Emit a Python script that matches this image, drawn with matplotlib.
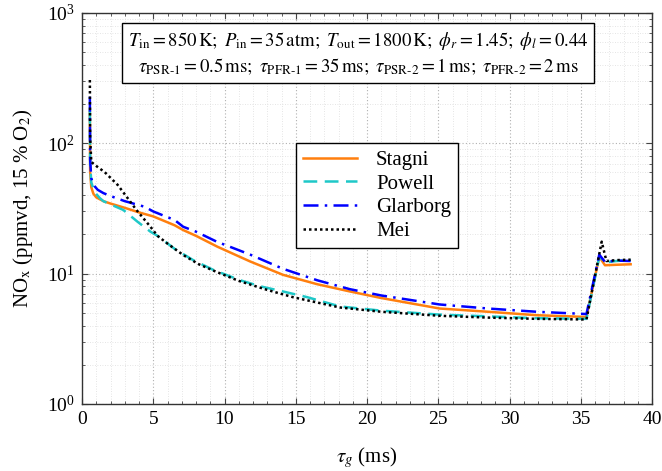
import matplotlib
matplotlib.use('Agg')
import matplotlib.pyplot as plt
from matplotlib.ticker import MultipleLocator, LogLocator, NullFormatter

plt.rcParams['font.family'] = ['Liberation Serif', 'DejaVu Serif']
plt.rcParams['mathtext.fontset'] = 'stix'

# ── Data ──────────────────────────────────────────────────────────────────────
tau_stagni = [0.55, 0.57, 0.65, 0.8, 1.0, 1.5, 2.0, 3.0, 4.0, 5.0, 6.5, 7.1, 8.0,
              9.5, 11.8, 14.1, 16.5, 18.8, 21.0, 25.1, 28.5, 31.9, 35.4,
              36.3, 36.7, 37.5, 38.5]
nox_stagni = [174, 60, 46, 41, 38.5, 36, 34.5, 32, 29.5, 27.5, 23.5, 21.6, 19.5,
              16.1, 12.4, 9.8, 8.3, 7.3, 6.5, 5.4, 5.1, 4.8, 4.65,
              13.5, 11.6, 11.7, 11.8]

tau_powell = [0.55, 0.57, 0.65, 0.9, 1.25, 1.5, 2.0, 2.9, 3.9, 4.8, 5.3, 6.5, 7.8,
              9.2, 11.1, 12.5, 14.1, 15.8, 18.1, 21.0, 25.1, 28.5, 31.9, 35.4,
              36.3, 36.7, 37.5, 38.5]
nox_powell = [180, 70, 50, 42, 38, 36, 34, 30.8, 25, 21, 19.5, 15.5, 12.7,
              10.7, 8.9, 8.0, 7.3, 6.6, 5.6, 5.2, 4.85, 4.7, 4.55, 4.5,
              13.5, 12.2, 12.5, 12.7]

tau_glarborg = [0.55, 0.57, 0.65, 0.8, 1.1, 1.5, 2.0, 3.0, 4.4, 5.0, 6.5, 7.1, 8.0,
                9.45, 11.8, 14.1, 16.5, 18.8, 21.0, 25.1, 28.5, 31.9, 35.4,
                36.3, 36.7, 37.5, 38.5]
nox_glarborg = [228, 75, 54, 48, 44, 41.5, 39.4, 36, 32.6, 30, 25.8, 22.9, 21,
                17.6, 14.0, 10.9, 8.9, 7.6, 6.8, 5.8, 5.4, 5.1, 4.9,
                14, 12.3, 12.6, 12.5]

tau_mei = [0.55, 0.57, 0.65, 1.0, 1.6, 2.5, 3.2, 3.8, 4.8, 5.3, 6.0, 7.1, 8.2, 9.45,
           11.0, 13.0, 14.8, 18.1, 21.0, 25.1, 28.5, 31.9, 35.4,
           36.47, 36.8, 37.5, 38.5]
nox_mei = [306, 110, 72, 67, 60, 48, 38, 31, 22.9, 19.5, 17, 13.9, 11.8, 10.3,
           8.8, 7.5, 6.6, 5.5, 5.1, 4.75, 4.6, 4.5, 4.45,
           17.6, 12.5, 12.7, 12.8]

# ── Plot ──────────────────────────────────────────────────────────────────────
fig = plt.figure(figsize=(6.62, 4.71), dpi=100)
ax = fig.add_axes([0.1239, 0.1423, 0.8610, 0.8301])

ax.plot(tau_stagni, nox_stagni, color='#ff7f0e', lw=1.8, ls='-', label='Stagni')
ax.plot(tau_powell, nox_powell, color='#1ec8c8', lw=1.8, ls=(0, (5.5, 3)), label='Powell')
ax.plot(tau_glarborg, nox_glarborg, color='#0000ff', lw=1.8,
        ls=(0, (6, 2.5, 1, 2.5)), label='Glarborg')
ax.plot(tau_mei, nox_mei, color='black', lw=1.8, ls=(0, (1, 1.2)), label='Mei')

ax.set_yscale('log')
ax.set_xlim(0, 40)
ax.set_ylim(1, 1000)
ax.xaxis.set_major_locator(MultipleLocator(5))
ax.xaxis.set_minor_locator(MultipleLocator(1))
ax.yaxis.set_major_locator(LogLocator(base=10, numticks=10))
ax.yaxis.set_minor_locator(LogLocator(base=10, subs=range(2, 10), numticks=20))
ax.yaxis.set_minor_formatter(NullFormatter())

ax.grid(which='major', ls=(0, (1, 2)), color='#b0b0b0', lw=0.8)
ax.grid(which='minor', ls=(0, (1, 2)), color='#dcdcdc', lw=0.6)
ax.tick_params(which='both', direction='in', top=True, right=True,
               labelsize=14, color='#444444')
ax.tick_params(which='major', length=4, pad=5)
ax.tick_params(which='minor', length=2.5)
for sp in ax.spines.values():
    sp.set_color('#333333')
    sp.set_linewidth(1.0)

ax.set_xlabel(r'$\tau_g$ (ms)', fontsize=15)
ax.set_ylabel(r'NO$_\mathrm{x}$ (ppmvd, 15 % O$_2$)', fontsize=15)
ax.xaxis.set_label_coords(0.5, -0.105)
ax.yaxis.set_label_coords(-0.082, 0.5)

info = (r'$T_\mathrm{in} = 850\,\mathrm{K};\ P_\mathrm{in} = 35\,\mathrm{atm};\ '
        r'T_\mathrm{out} = 1800\,\mathrm{K};\ \phi_r = 1.45;\ \phi_l = 0.44$' + '\n' +
        r'$\tau_{\mathrm{PSR}\text{-}\mathrm{1}} = 0.5\,\mathrm{ms};\ '
        r'\tau_{\mathrm{PFR}\text{-}\mathrm{1}} = 35\,\mathrm{ms};\ '
        r'\tau_{\mathrm{PSR}\text{-}\mathrm{2}} = 1\,\mathrm{ms};\ '
        r'\tau_{\mathrm{PFR}\text{-}\mathrm{2}} = 2\,\mathrm{ms}$')
ax.text(0.485, 0.896, info, transform=ax.transAxes, ha='center', va='center',
        fontsize=13.5, linespacing=1.3,
        bbox=dict(boxstyle='square,pad=0.3', facecolor='white', edgecolor='black', lw=1.0))

leg = ax.legend(loc='upper left', bbox_to_anchor=(0.375, 0.6675), fontsize=15,
                frameon=True, fancybox=False, edgecolor='black', framealpha=1,
                handlelength=2.6, borderpad=0.35, labelspacing=0.2, handletextpad=0.9,
                borderaxespad=0)
leg.get_frame().set_linewidth(1.0)

fig.savefig('out.png', dpi=100)
plt.close(fig)
